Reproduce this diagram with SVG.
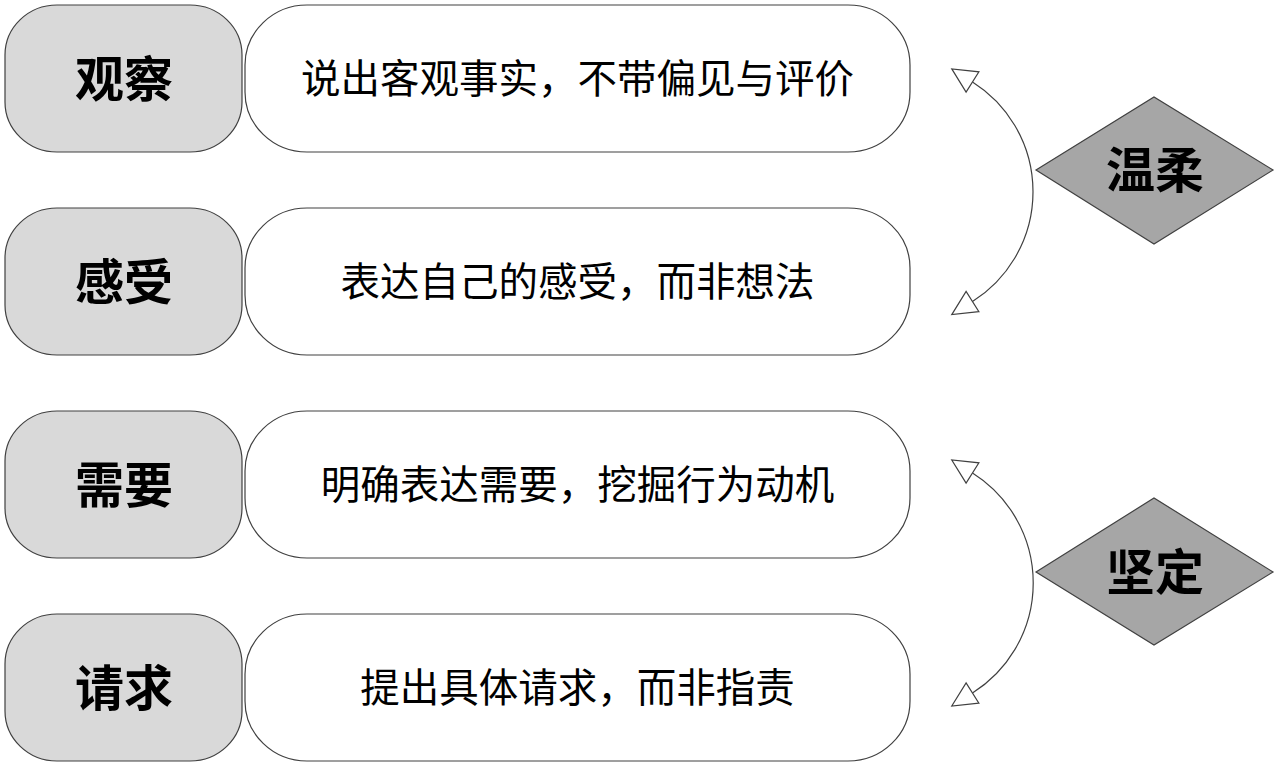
<svg xmlns="http://www.w3.org/2000/svg" width="1276" height="764" viewBox="0 0 1276 764">
<style>
.lbox{fill:#d9d9d9;stroke:#404040;stroke-width:1.2}
.rbox{fill:#ffffff;stroke:#404040;stroke-width:1.2}
.dia{fill:#a6a6a6;stroke:#404040;stroke-width:1.2}
.lt{font-family:"Noto Sans CJK SC","Noto Sans CJK JP",sans-serif;font-weight:bold;font-size:49px;fill:#000;text-anchor:middle;dominant-baseline:central}
.rt{font-family:"Noto Sans CJK SC","Noto Sans CJK JP",sans-serif;font-size:39.5px;fill:#000;text-anchor:middle;dominant-baseline:central}
.arc{fill:none;stroke:#404040;stroke-width:1.2}
</style>
<defs>
<marker id="tri" markerUnits="userSpaceOnUse" viewBox="-2 -14 30 28" refX="0" refY="0" markerWidth="30" markerHeight="28" orient="auto-start-reverse">
<polygon points="0,-12 24.5,0 0,12" fill="#fff" stroke="#404040" stroke-width="1.2"/>
</marker>
</defs>
<rect width="1276" height="764" fill="#fff"/>
<g id="n1"><rect class="lbox" x="5" y="5" width="237" height="147" rx="52" ry="50"/><text class="lt" x="124" y="75">观察</text></g>
<g id="d1"><rect class="rbox" x="245" y="5" width="665" height="147" rx="62" ry="60"/><text class="rt" x="577.5" y="75">说出客观事实，不带偏见与评价</text></g>
<g id="n2"><rect class="lbox" x="5" y="208" width="237" height="147" rx="52" ry="50"/><text class="lt" x="124" y="278">感受</text></g>
<g id="d2"><rect class="rbox" x="245" y="208" width="665" height="147" rx="62" ry="60"/><text class="rt" x="577.5" y="278">表达自己的感受，而非想法</text></g>
<g id="n3"><rect class="lbox" x="5" y="411" width="237" height="147" rx="52" ry="50"/><text class="lt" x="124" y="481">需要</text></g>
<g id="d3"><rect class="rbox" x="245" y="411" width="665" height="147" rx="62" ry="60"/><text class="rt" x="577.5" y="481">明确表达需要，挖掘行为动机</text></g>
<g id="n4"><rect class="lbox" x="5" y="614" width="237" height="147" rx="52" ry="50"/><text class="lt" x="124" y="684">请求</text></g>
<g id="d4"><rect class="rbox" x="245" y="614" width="665" height="147" rx="62" ry="60"/><text class="rt" x="577.5" y="684">提出具体请求，而非指责</text></g>
<g id="gentle"><polygon class="dia" points="1036,170 1154,97 1273,170 1154,244"/><text class="lt" x="1155" y="166">温柔</text></g>
<g id="firm"><polygon class="dia" points="1036,572 1154,498 1273,572 1154,645"/><text class="lt" x="1155" y="568">坚定</text></g>
<g id="connectors">
<path class="arc" d="M972.5,82 A129.8,129.8 0 0 1 972.5,301.5" marker-start="url(#tri)" marker-end="url(#tri)"/>
<path class="arc" d="M972.5,473 A130,130 0 0 1 972.5,693" marker-start="url(#tri)" marker-end="url(#tri)"/>
</g>
</svg>
